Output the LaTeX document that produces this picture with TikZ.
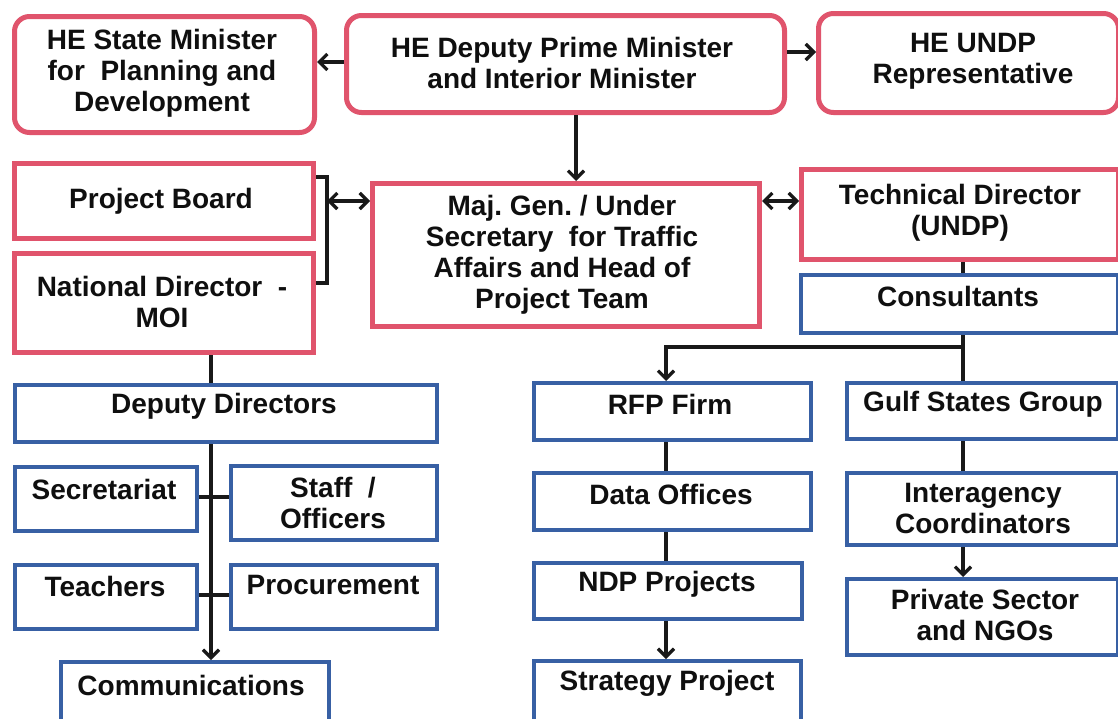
\documentclass[tikz,border=0pt]{standalone}
\usepackage{fontspec}
\setmainfont{Liberation Sans}
\usetikzlibrary{arrows.meta}
\frenchspacing
\definecolor{boxred}{RGB}{224,84,108}
\definecolor{boxblue}{RGB}{56,96,164}
\definecolor{linec}{RGB}{25,25,25}
\definecolor{txt}{RGB}{15,15,15}
\newcommand{\mkbox}[6]{\node[#1, anchor=north west, inner sep=0pt, minimum width={#5-#3}, minimum height={#6-#4}] (#2) at (#3,#4) {};}
\begin{document}
\begin{tikzpicture}[x=1pt,y=-1pt,
  redbox/.style={draw=boxred, line width=5pt, fill=white},
  redround/.style={redbox, rounded corners=15pt},
  bluebox/.style={draw=boxblue, line width=4.2pt, fill=white},
  lbl/.style={font=\fontsize{28}{31}\selectfont\bfseries, align=center, text=txt, inner sep=0pt},
  conn/.style={line width=3.3pt, draw=linec},
  arr/.style={conn, -{Straight Barb[length=8pt,width=16pt,line width=3.3pt]}},
  darr/.style={conn, {Straight Barb[length=8pt,width=16pt,line width=3.3pt]}-{Straight Barb[length=8pt,width=16pt,line width=3.3pt]}}]
\useasboundingbox[fill=white] (0,0) rectangle (1118,718);
% top row
\mkbox{redround}{smin}{12}{14}{312}{130}
\mkbox{redround}{dpm}{344}{13}{782}{110}
\mkbox{redround}{undp}{816}{11}{1116}{110}
% second row
\mkbox{redbox}{pb}{12}{161}{311}{236}
\mkbox{redbox}{nd}{12}{251}{311}{350}
\mkbox{redbox}{mg}{370}{181}{757}{324}
\mkbox{redbox}{td}{799}{167}{1116}{257}
\mkbox{bluebox}{cons}{799}{273}{1116}{331}
% left column
\mkbox{bluebox}{dd}{13}{383}{435}{440}
\mkbox{bluebox}{sec}{13}{465}{195}{529}
\mkbox{bluebox}{staff}{229}{464}{435}{538}
\mkbox{bluebox}{tea}{13}{563}{195}{627}
\mkbox{bluebox}{proc}{229}{563}{435}{627}
\mkbox{bluebox}{comm}{59}{660}{327}{722}
% middle column
\mkbox{bluebox}{rfp}{532}{381}{809}{438}
\mkbox{bluebox}{do}{532}{471}{809}{528}
\mkbox{bluebox}{ndp}{532}{561}{800}{617}
\mkbox{bluebox}{sp}{532}{659}{799}{722}
% right column
\mkbox{bluebox}{gulf}{845}{381}{1116}{437}
\mkbox{bluebox}{ia}{845}{471}{1116}{543}
\mkbox{bluebox}{ps}{845}{577}{1116}{653}
% labels
\node[lbl] (sminT) at (162,73) {HE State Minister\\for~ Planning and\\Development};
\node[lbl] (dpmT) at (562,63) {HE Deputy Prime Minister\\and Interior Minister};
\node[lbl] (undpT) at (973,61) {HE UNDP\\Representative};
\node[lbl] (pbT) at (161,201) {Project Board};
\node[lbl] (ndT) at (162,302) {National Director~ -\\MOI};
\node[lbl] (mgT) at (562,255) {Maj. Gen. / Under\\Secretary~ for Traffic\\Affairs and Head of\\Project Team};
\node[lbl] (tdT) at (960,213) {Technical Director\\(UNDP)};
\node[lbl] (consT) at (958,296) {Consultants};
\node[lbl] (ddT) at (224,406) {Deputy Directors};
\node[lbl] (secT) at (104,489) {Secretariat};
\node[lbl] (staffT) at (333,503) {Staff~ /\\Officers};
\node[lbl] (teaT) at (105,586) {Teachers};
\node[lbl] (procT) at (333,585) {Procurement};
\node[lbl] (commT) at (191,685) {Communications};
\node[lbl] (rfpT) at (670,404) {RFP Firm};
\node[lbl] (doT) at (671,494) {Data Offices};
\node[lbl] (ndpT) at (667,584) {NDP Projects};
\node[lbl] (spT) at (667,683) {Strategy Project};
\node[lbl] (gulfT) at (983,404) {Gulf States Group};
\node[lbl] (iaT) at (983,508) {Interagency\\Coordinators};
\node[lbl] (psT) at (985,615) {Private Sector\\and NGOs};
% helper coordinates
\coordinate (br1) at (327,177);
\coordinate (br2) at (327,283);
\coordinate (brm) at (327,201);
\coordinate (cb) at (963,347);
% connectors
\draw[arr] (dpm.west |- 0,62) -- (smin.east |- 0,62);
\draw[arr] (dpm.east |- 0,52) -- (undp.west |- 0,52);
\draw[arr] (dpm.south -| 576,0) -- (mg.north -| 576,0);
\draw[conn] (pb.east |- br1) -- (br1) -- (br2) -- (nd.east |- br2);
\draw[darr] (brm) -- (mg.west |- brm);
\draw[darr] (mg.east |- brm) -- (td.west |- brm);
\draw[conn] (td.south -| cb) -- (cons.north -| cb);
\draw[conn] (cons.south -| cb) -- (cb);
\draw[arr] (cb) -| (rfp.north -| 666,0);
\draw[conn] (cb) -- (gulf.north -| cb);
\draw[conn] (nd.south -| 211,0) -- (dd.north -| 211,0);
\draw[arr] (dd.south -| 211,0) -- (comm.north -| 211,0);
\draw[conn] (sec.east |- 0,497) -- (staff.west |- 0,497);
\draw[conn] (tea.east |- 0,595) -- (proc.west |- 0,595);
\draw[conn] (rfp.south -| 666,0) -- (do.north -| 666,0);
\draw[conn] (do.south -| 666,0) -- (ndp.north -| 666,0);
\draw[arr] (ndp.south -| 666,0) -- (sp.north -| 666,0);
\draw[conn] (gulf.south -| cb) -- (ia.north -| cb);
\draw[arr] (ia.south -| cb) -- (ps.north -| cb);
\end{tikzpicture}
\end{document}
